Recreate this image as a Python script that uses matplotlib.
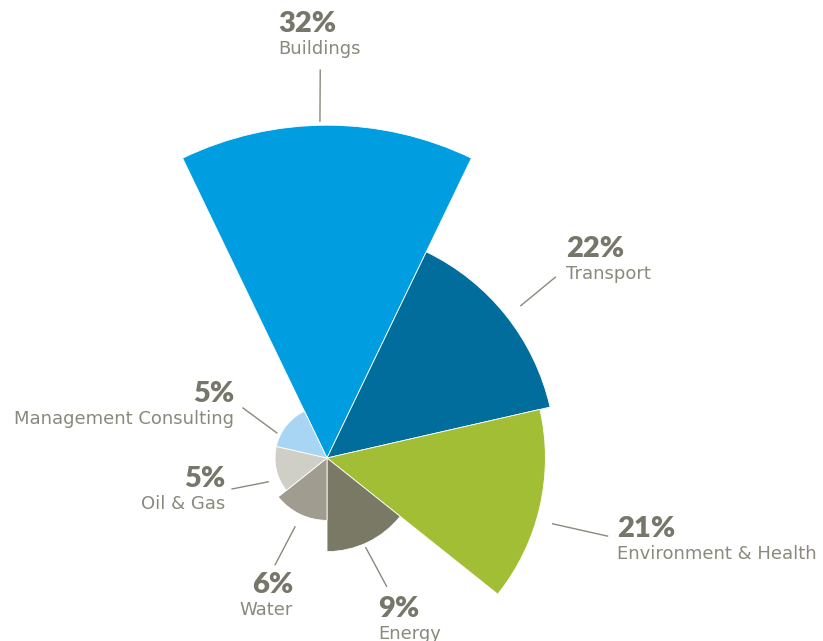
"""
Polar-arealdiagram: andel prosjekter per sektor.
"""

import numpy as np
import matplotlib
matplotlib.use("Agg")
import matplotlib.pyplot as plt

SEKTORER = ["Buildings", "Transport", "Environment & Health", "Energy",
            "Water", "Oil & Gas", "Management Consulting"]
ANDEL = [32, 22, 21, 9, 6, 5, 5]
ETIKETTER = [f"{v}%" for v in ANDEL]

FARGER = ["#009EE0", "#006D9C", "#A1BE35", "#7A7966",
          "#A09D90", "#D0CFC7", "#A9D5F5"]
PROSENT_FARGE = "#77766A"
NAVN_FARGE = "#8A897C"
LINJE_FARGE = "#8A897C"

# Etikettplassering i piksler (fra øvre venstre hjørne): x, grunnlinje for prosenttall
ETIKETT_X = [278, 566, 617, 378, 293, 225, 234]
ETIKETT_Y = [32, 257, 537, 617, 593, 487, 402]
ETIKETT_HA = ["left", "left", "left", "left", "right", "right", "right"]

# Ledelinjer: vinkelavvik (grader) og radielt tillegg (dataenheter) for start/slutt
LINJE_DV0 = [-1.2, 0.4, 3.4, 2.3, -0.8, -9.2, -12.0]
LINJE_DV1 = [-1.0, 0.2, 2.7, 0.8, 0.2, -5.2, -7.8]
LINJE_DR0 = [0.4, 1.7, 1.6, 0.4, 1.3, 1.1, 0.4]
LINJE_DR1 = [5.3, 6.0, 7.0, 4.6, 5.4, 4.6, 4.4]

B, H = 823, 641
SENTER = (327, 458)
PX_PER_ENHET = 10.4
RMAX = 40


def main():
    fig = plt.figure(figsize=(B / 100, H / 100), dpi=100)
    fig.patch.set_facecolor("white")

    r_px = RMAX * PX_PER_ENHET
    ax = fig.add_axes([(SENTER[0] - r_px) / B, (H - SENTER[1] - r_px) / H,
                       2 * r_px / B, 2 * r_px / H], projection="polar")
    ax.set_theta_zero_location("N")
    ax.set_theta_direction(-1)
    ax.set_ylim(0, RMAX)
    ax.set_axis_off()
    ax.patch.set_alpha(0)

    n = len(ANDEL)
    bredde = 2 * np.pi / n
    theta = np.arange(n) * bredde
    ax.bar(theta, ANDEL, width=bredde, color=FARGER, edgecolor="white",
           linewidth=0.6, align="center")

    for i, v in enumerate(ANDEL):
        t0 = theta[i] + np.deg2rad(LINJE_DV0[i])
        t1 = theta[i] + np.deg2rad(LINJE_DV1[i])
        ax.plot([t0, t1], [v + LINJE_DR0[i], v + LINJE_DR1[i]],
                color=LINJE_FARGE, linewidth=1.0, clip_on=False)

        x = ETIKETT_X[i] / B
        y = 1 - ETIKETT_Y[i] / H
        fig.text(x, y, ETIKETTER[i], ha=ETIKETT_HA[i], va="baseline",
                 fontsize=21, fontweight="heavy", color=PROSENT_FARGE,
                 family=["Lato", "DejaVu Sans"])
        fig.text(x, y - 22 / H, SEKTORER[i], ha=ETIKETT_HA[i], va="baseline",
                 fontsize=13, color=NAVN_FARGE, family=["DejaVu Sans"])

    fig.savefig("out.png", dpi=100)
    plt.close(fig)


if __name__ == "__main__":
    main()
